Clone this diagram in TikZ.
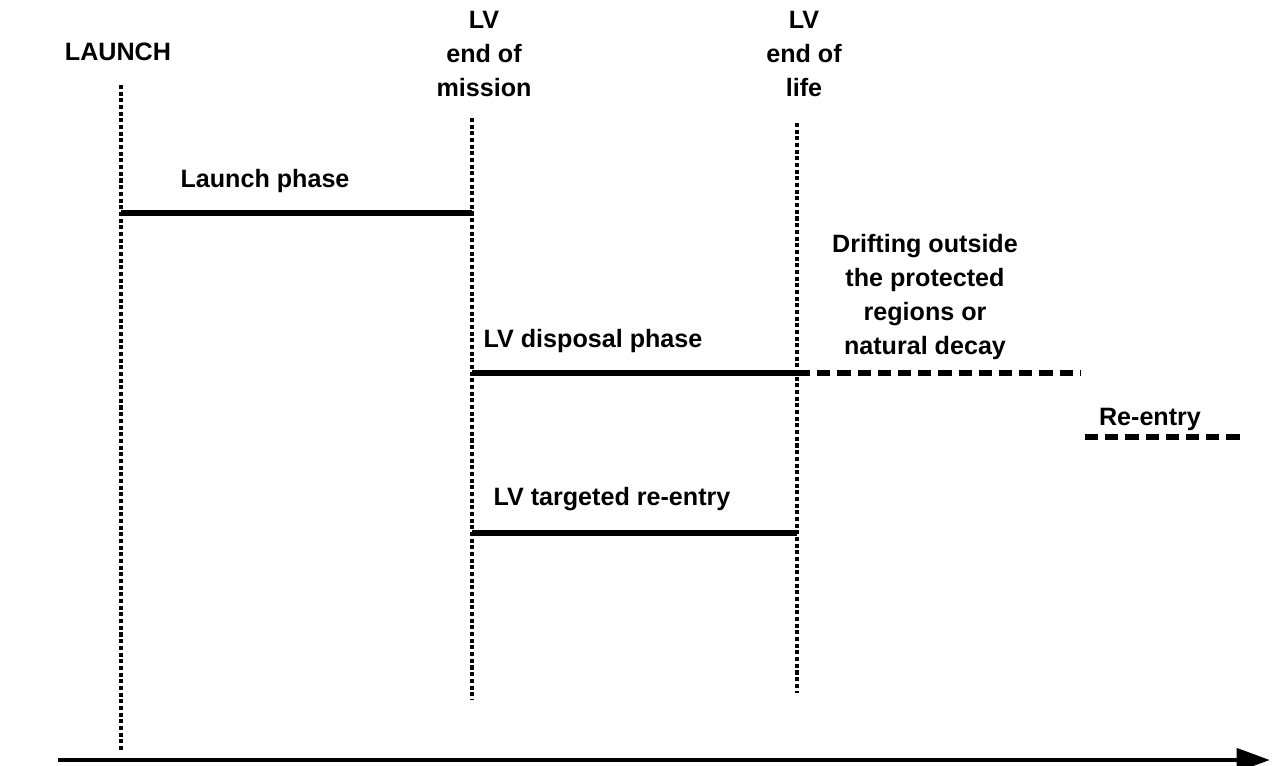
\documentclass[tikz,border=0pt]{standalone}
\usepackage{fontspec}
\setmainfont{Liberation Sans}
\usetikzlibrary{arrows.meta}

\begin{document}
\begin{tikzpicture}[
        x=0.02cm, y=-0.02cm,
        lbl/.style={font=\bfseries\fontsize{14.3}{19.5}\selectfont, align=center, inner sep=0pt},
        epoch/.style={line width=1.9pt, dash pattern=on 2.3pt off 1.5pt},
        phase/.style={line width=3.5pt},
        drift/.style={line width=3pt, dash pattern=on 7.5pt off 4pt},
        timeaxis/.style={line width=2.8pt, -{Triangle[length=19pt,width=13pt]}}
    ]
        \useasboundingbox (0,0) rectangle (1272,765);

        % epochs
        \node[lbl] (launch) at (118,52) {LAUNCH};
        \node[lbl] (eom) at (484,54) {LV\\end of\\mission};
        \node[lbl] (eol) at (804,54) {LV\\end of\\life};

        \coordinate (launchtop) at (121,85);
        \coordinate (launchbot) at (121,752);
        \coordinate (eomtop) at (472,118);
        \coordinate (eombot) at (472,700);
        \coordinate (eoltop) at (797,123);
        \coordinate (eolbot) at (797,693);

        \draw[epoch] (launchtop) -- (launchbot);
        \draw[epoch] (eomtop) -- (eombot);
        \draw[epoch] (eoltop) -- (eolbot);

        % phases
        \node[lbl] (launchph) at (265,181) {Launch phase};
        \node[lbl] (disposal) at (593,341) {LV disposal phase};
        \node[lbl] (targeted) at (612,499) {LV targeted re-entry};
        \node[lbl] (drifting) at (925,297) {Drifting outside\\the protected\\regions or\\natural decay};
        \node[lbl] (reentry) at (1150,419) {Re-entry};

        \coordinate (lp1) at (121,213);
        \coordinate (lp2) at (472,213);
        \coordinate (dp1) at (472,373);
        \coordinate (dp2) at (797,373);
        \coordinate (dp3) at (1080,373);
        \coordinate (tr1) at (472,533);
        \coordinate (tr2) at (797,533);
        \coordinate (re1) at (1085,437);
        \coordinate (re2) at (1246,437);

        \draw[phase] (lp1) -- (lp2);
        \draw[phase] (dp1) -- (dp2);
        \draw[drift] (dp2) -- (dp3);
        \draw[phase] (tr1) -- (tr2);
        \draw[drift] (re1) -- (re2);

        % time axis
        \coordinate (t0) at (58,760);
        \coordinate (t1) at (1270,760);
        \draw[timeaxis] (t0) -- (t1);
    \end{tikzpicture}
\end{document}
